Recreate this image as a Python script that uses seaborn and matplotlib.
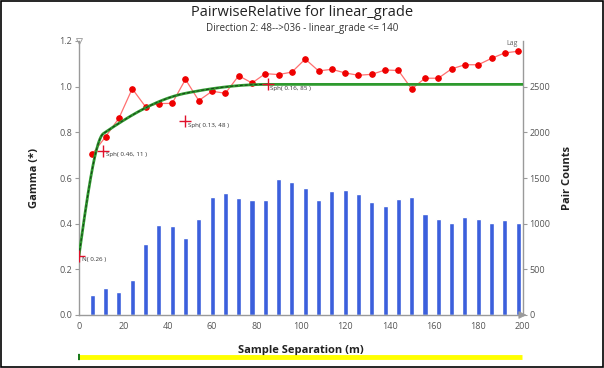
import numpy as np
import pandas as pd
import matplotlib
matplotlib.use("Agg")
import matplotlib.pyplot as plt
import seaborn as sns
from matplotlib.lines import Line2D

# ---- data ----
lags = [6, 12, 18, 24, 30, 36, 42, 48, 54, 60, 66, 72, 78, 84, 90, 96, 102,
        108, 114, 120, 126, 132, 138, 144, 150, 156, 162, 168, 174, 180, 186, 192, 198]
gamma = [0.705, 0.781, 0.862, 0.991, 0.912, 0.926, 0.927, 1.032, 0.939, 0.980, 0.971,
         1.048, 1.016, 1.057, 1.053, 1.064, 1.121, 1.069, 1.076, 1.060, 1.050, 1.054,
         1.073, 1.071, 0.990, 1.037, 1.037, 1.078, 1.096, 1.096, 1.124, 1.148, 1.155]
pair_counts = [220, 297, 257, 384, 775, 989, 970, 848, 1054, 1297, 1340, 1283, 1264,
               1264, 1492, 1460, 1395, 1264, 1359, 1373, 1326, 1242, 1196, 1271, 1288,
               1108, 1054, 1011, 1072, 1048, 1004, 1037, 1011]
nugget = 0.26
sph_sills = [0.46, 0.13, 0.16]
sph_ranges = [11, 48, 85]
model_labels = ["N( 0.26 )", "Sph( 0.46, 11 )", "Sph( 0.13, 48 )", "Sph( 0.16, 85 )"]

# ---- model curve from nested structures ----
h = np.linspace(0, 200, 801)
model = np.full_like(h, nugget)
for c, a in zip(sph_sills, sph_ranges):
    r = np.minimum(h / a, 1.0)
    model += c * (1.5 * r - 0.5 * r ** 3)
cross_x = [0] + sph_ranges
cross_y = list(np.cumsum([nugget] + sph_sills))

sns.set_theme(style="white")
plt.rcParams['font.family'] = ['Open Sans', 'DejaVu Sans']

fig = plt.figure(figsize=(6.04, 3.68), dpi=100)
ax = fig.add_axes([79 / 604, 1 - 315 / 368, (522.6 - 79) / 604, (315 - 41) / 368])
ax2 = ax.twinx()

gray = "#9a9a9a"
tcol = "#555555"

# bars on right axis
df_b = pd.DataFrame({"lag": lags, "count": pair_counts})
sns.barplot(data=df_b, x="lag", y="count", native_scale=True, width=0.38,
            color="#3b5fdc", saturation=1, ax=ax2, errorbar=None)
ax2.set_ylim(0, 3000)
ax2.set_xlim(0, 200)
ax2.set_yticks([0, 500, 1000, 1500, 2000, 2500])
ax2.set_ylabel("Pair Counts", fontsize=8, fontweight="bold", color="#222222", labelpad=8)

ax.set_zorder(ax2.get_zorder() + 1)
ax.patch.set_visible(False)

# experimental points
df_g = pd.DataFrame({"lag": lags, "gamma": gamma})
sns.lineplot(data=df_g, x="lag", y="gamma", ax=ax, color="#ff7070", lw=0.9,
             marker="o", markersize=4, markerfacecolor="#ee0000",
             markeredgecolor="#ee0000", zorder=3)

# model
df_m = pd.DataFrame({"h": h, "model": model})
sns.lineplot(data=df_m, x="h", y="model", ax=ax, color="#2e9a2e", lw=2.0, zorder=4)
sub = df_m[df_m["h"] <= sph_ranges[-1]]
sns.lineplot(data=sub, x="h", y="model", ax=ax, color="#1a3a1a", lw=0.7,
             linestyle=(0, (3, 2)), zorder=5)

# crosses and labels
ax.scatter(cross_x, cross_y, marker="+", s=80, color="#e0102a", linewidths=1.0, zorder=6)
for x, y, lab in zip(cross_x, cross_y, model_labels):
    ax.annotate(lab, (x, y), xytext=(2, -3), textcoords="offset points",
                fontsize=4.5, color="#333333", va="center", ha="left", zorder=7)

ax.text(198, 1.175, "Lag", fontsize=5, color="#666666", ha="right", va="bottom")

ax.set_xlim(0, 200)
ax.set_ylim(0, 1.2)
ax.set_xticks(range(0, 201, 20))
ax.set_yticks([0.0, 0.2, 0.4, 0.6, 0.8, 1.0, 1.2])
ax.set_yticklabels(["0.0", "0.2", "0.4", "0.6", "0.8", "1.0", "1.2"])
ax.set_xlabel("Sample Separation (m)", fontsize=8, fontweight="bold", color="#222222", labelpad=10)
ax.set_ylabel("Gamma (*)", fontsize=8, fontweight="bold", color="#222222", labelpad=14)

for a in (ax, ax2):
    a.spines["top"].set_visible(False)
    a.tick_params(labelsize=6.5, colors=gray, labelcolor=tcol, length=3, width=0.8,
                  pad=2, direction="out")
    for s in ("left", "right", "bottom"):
        a.spines[s].set_color(gray)
        a.spines[s].set_linewidth(1.0)
ax.spines["right"].set_visible(False)
ax2.spines["left"].set_visible(False)
ax2.spines["bottom"].set_visible(False)
ax2.set_xlabel("")

# small axis-end arrows
ax.plot([0], [1.2], marker="v", markersize=4, markerfacecolor="none",
        markeredgecolor=gray, markeredgewidth=0.6, clip_on=False)
ax.annotate("", xy=(203, 0), xytext=(199, 0), xycoords="data",
            arrowprops=dict(arrowstyle="-|>", color=gray, lw=0.6), annotation_clip=False)

fig.text(0.5, 1 - 13 / 368, "PairwiseRelative for linear_grade", ha="center", va="center",
         fontsize=10.5, color="#222222")
fig.text(0.5, 1 - 28 / 368, "Direction 2: 48-->036 - linear_grade <= 140", ha="center",
         va="center", fontsize=7, color="#333333")

# yellow slider bar
yb = 1 - 357 / 368
fig.add_artist(Line2D([79 / 604, 522 / 604], [yb, yb], color="#ffff00", lw=3.5,
                      solid_capstyle="butt", transform=fig.transFigure))
fig.add_artist(Line2D([78 / 604, 80.5 / 604], [yb, yb], color="#1a7a1a", lw=4.5,
                      solid_capstyle="butt", transform=fig.transFigure))

# outer border
fig.add_artist(plt.Rectangle((0.001, 0.002), 0.997, 0.995, fill=False, edgecolor="black",
                             lw=1.2, transform=fig.transFigure))

fig.savefig("out.png", dpi=100)
